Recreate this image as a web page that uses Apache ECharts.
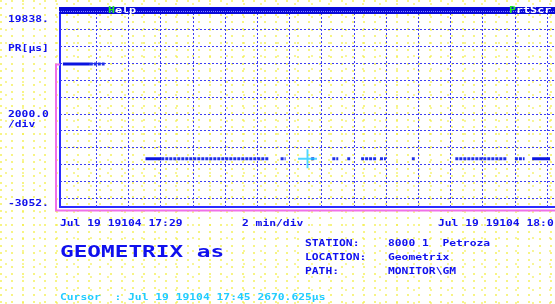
<!DOCTYPE html>
<html lang="en">
<head>
<meta charset="UTF-8">
<title>GEOMETRIX PR</title>
<script src="https://cdn.jsdelivr.net/npm/echarts@6.0.0/dist/echarts.min.js"></script>
<style>
    html, body { margin: 0; padding: 0; }
    body {
        width: 555px; height: 304px; overflow: hidden;
        background-color: #fff;
        /* yellow speckle of the screen capture */
        background-image:
            radial-gradient(circle at 1px 1px, #f2ee40 0.6px, transparent 0.9px),
            radial-gradient(circle at 1px 1px, #f4f060 0.6px, transparent 0.9px);
        background-size: 11px 7px, 17px 13px;
        background-position: 0 0, 5px 3px;
    }
    #chart { width: 555px; height: 304px; }
</style>
</head>
<body>
<div id="chart"></div>
<script>
    // time in minutes after 17:00
    let xMin = 29.75, xMax = 60.49;
    let yMin = -3052.5, yMax = 19838.5;
    let xGridMinutes = [32, 34, 36, 38, 40, 42, 44, 46, 48, 50, 52, 54, 56, 58, 60];
    let yGridValues = [-2000, 0, 2000, 4000, 6000, 8000, 10000, 12000, 14000, 16000, 18000];

    // [start, end, value]
    let solidSegments = [[29.93, 31.6, 13900], [35.06, 36.04, 2670], [59.07, 60.18, 2670]];
    let dottedSegments = [
        [31.6, 32.52, 13900], [36.04, 42.7, 2670], [43.45, 43.76, 2670], [45.35, 45.55, 2670],
        [46.66, 47.03, 2670], [47.59, 47.77, 2670], [48.45, 49.38, 2670], [49.62, 49.99, 2670],
        [51.6, 51.78, 2670], [54.3, 57.5, 2670], [58.0, 58.6, 2670]
    ];
    let cursorPoint = [45.12, 2670.625];

    let yLabels = ['19838.', 'PR[\u00b5s]', '2000.0', '/div', '-3052.'];
    let timeLabels = ['Jul 19 19104 17:29', '2 min/div', 'Jul 19 19104 18:0'];
    let infoKeys = ['STATION:', 'LOCATION:', 'PATH:'];
    let infoValues = ['8000 1  Petroza', 'Geometrix', 'MONITOR\\GM'];
    let titleText = 'GEOMETRIX as';
    let cursorText = 'Cursor  : Jul 19 19104 17:45 2670.625\u00b5s';

    let blue = '#1010ee', cyan = '#22ccff';
    let smallFont = 'bold 9.5px "DejaVu Sans Mono"';

    function txt(x, y, text, color, font, sx) {
        return {
            type: 'text', x: x, y: y, scaleX: sx || 1.19, z: 100,
            style: {text: text, fill: color || blue, font: font || smallFont, verticalAlign: 'middle'}
        };
    }

    let series = [];
    // grid lines
    series.push({
        type: 'line', data: [], silent: true,
        markLine: {
            silent: true, symbol: 'none', label: {show: false}, animation: false,
            lineStyle: {color: '#3c3cf4', width: 1, type: [2, 2]},
            data: xGridMinutes.map(function (v) { return {xAxis: v}; })
                .concat(yGridValues.map(function (v) { return {yAxis: v}; }))
        }
    });
    solidSegments.forEach(function (s) {
        series.push({
            type: 'line', symbol: 'none', z: 5,
            lineStyle: {color: '#0a14e0', width: 3},
            data: [[s[0], s[2]], [s[1], s[2]]]
        });
    });
    dottedSegments.forEach(function (s) {
        series.push({
            type: 'line', symbol: 'none', z: 5,
            lineStyle: {color: '#1e2ee8', width: 3, type: [3, 1]},
            data: [[s[0], s[2]], [s[1], s[2]]]
        });
    });
    // cursor crosshair
    series.push({
        type: 'scatter', z: 10, silent: true,
        symbol: 'path://M9,0h2v9h9v2h-9v9h-2v-9h-9v-2h9z', symbolSize: 19,
        itemStyle: {color: cyan},
        data: [cursorPoint]
    });

    let graphic = [
        // header bar
        {type: 'rect', shape: {x: 59, y: 7, width: 500, height: 7}, style: {fill: '#0808d8'}, z: 50},
        {type: 'line', shape: {x1: 59, y1: 11.5, x2: 559, y2: 11.5}, style: {stroke: '#8a8aff', lineWidth: 1, lineDash: [1, 1]}, z: 51},
        txt(108, 10.5, 'H', '#22e622', 'bold 9px "DejaVu Sans Mono"', 1.3),
        txt(115, 10.5, 'elp', '#ffffff', 'bold 9px "DejaVu Sans Mono"', 1.3),
        txt(509, 10.5, 'P', '#22e622', 'bold 9px "DejaVu Sans Mono"', 1.3),
        txt(516, 10.5, 'rtScr', '#ffffff', 'bold 9px "DejaVu Sans Mono"', 1.3),
        // pink bracket
        {type: 'polyline', shape: {points: [[60, 64.5], [56, 64.5], [56, 210.5], [560, 210.5]]}, style: {stroke: '#f070e8', lineWidth: 2, fill: null}, z: 40},
        txt(8, 19.5, yLabels[0]),
        txt(8, 48.5, yLabels[1]),
        txt(8, 114.5, yLabels[2]),
        txt(8, 124.5, yLabels[3]),
        txt(8, 203.5, yLabels[4]),
        txt(60, 223.5, timeLabels[0]),
        txt(242, 223.5, timeLabels[1]),
        txt(438, 223.5, timeLabels[2]),
        txt(60, 252.5, titleText, blue, 'bold 16px "DejaVu Sans Mono"', 1.42),
        txt(305, 243.5, infoKeys[0]),
        txt(305, 257.5, infoKeys[1]),
        txt(305, 271.5, infoKeys[2]),
        txt(388, 243.5, infoValues[0]),
        txt(388, 257.5, infoValues[1]),
        txt(388, 271.5, infoValues[2]),
        txt(60, 297.5, cursorText, cyan)
    ];

    let myChart = echarts.init(document.getElementById('chart'));
    myChart.setOption({
        backgroundColor: 'transparent',
        animation: false,
        grid: {left: 60, top: 14, right: -3, bottom: 97},
        xAxis: {
            type: 'value', min: xMin, max: xMax,
            axisLine: {show: true, onZero: false, lineStyle: {color: '#2a2aff', width: 2}},
            axisTick: {show: false}, axisLabel: {show: false}, splitLine: {show: false}
        },
        yAxis: {
            type: 'value', min: yMin, max: yMax,
            axisLine: {show: true, onZero: false, lineStyle: {color: '#2a2aff', width: 2}},
            axisTick: {show: false}, axisLabel: {show: false}, splitLine: {show: false}
        },
        series: series,
        graphic: graphic
    });
</script>
</body>
</html>
